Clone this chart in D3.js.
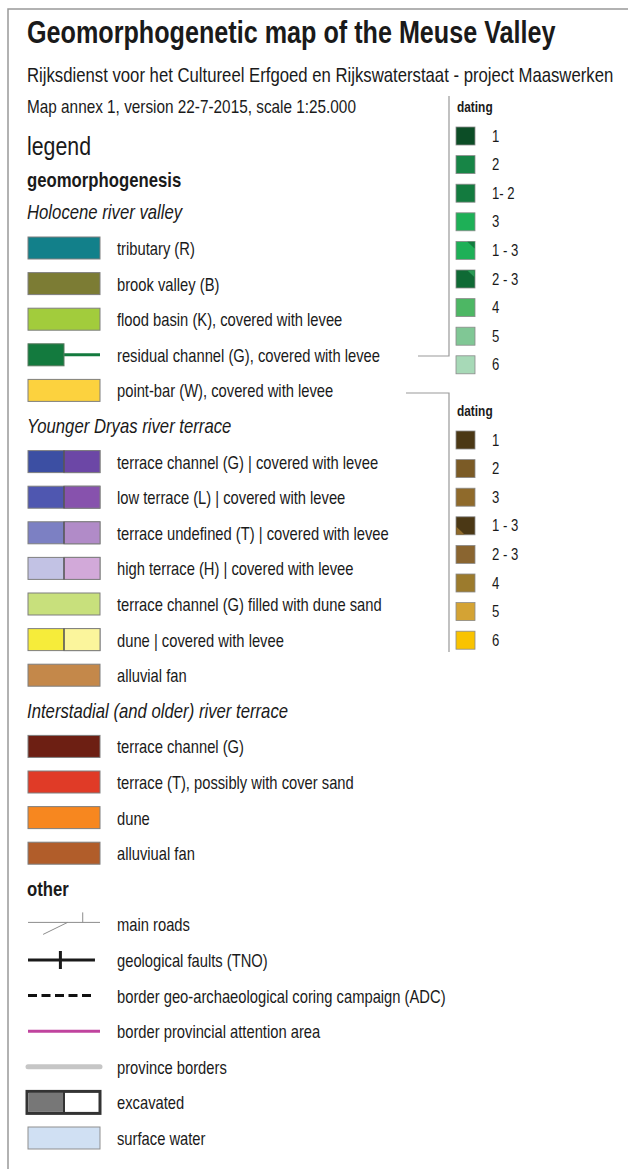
<!DOCTYPE html>
<html>
<head>
<meta charset="utf-8">
<script src="https://cdn.jsdelivr.net/npm/d3@7"></script>
<style>
  body { margin: 0; background: #fff; }
  text { font-family: "Liberation Sans", Arial, sans-serif; fill: #1a1a1a; }
</style>
</head>
<body>
<div class="chart"></div>
<script>
// Legend content
const sections = ["Holocene river valley", "Younger Dryas river terrace",
    "Interstadial (and older) river terrace", "other"];

const holoceneUnits = ["tributary (R)", "brook valley (B)", "flood basin (K), covered with levee",
    "residual channel (G), covered with levee", "point-bar  (W), covered with levee"];
const holoceneFills = ["#12808a", "#7c7c34", "#a2cc3c", "#137a3e", "#fcd23e"];

const dryasUnits = ["terrace channel (G) | covered with levee", "low terrace (L) | covered with levee",
    "terrace undefined (T) | covered with levee", "high terrace (H) | covered with levee",
    "terrace channel (G) filled with dune sand", "dune | covered with levee", "alluvial fan"];
const dryasLeft = ["#3c4fa3", "#4f57b0", "#7c80c3", "#c2c2e4", "#c8e07c", "#f6ec3a", "#c4884a"];
const dryasRight = ["#6c47a6", "#8752ad", "#b18bc8", "#d2a9d9", null, "#fbf59c", null];

const interstadialUnits = ["terrace channel (G)", "terrace (T), possibly with cover sand",
    "dune", "alluviual fan"];
const interstadialFills = ["#6d1f13", "#e03b27", "#f7871f", "#b15d2a"];

const otherItems = ["main roads", "geological faults (TNO)",
    "border geo-archaeological coring campaign (ADC)", "border provincial attention area",
    "province borders", "excavated", "surface water"];
const otherSymbols = ["road", "fault", "dashed", "magenta", "grey", "excavated", "water"];

const greenLabels = ["1", "2", "1- 2", "3", "1 - 3", "2 - 3", "4", "5", "6"];
const greenFills = ["#0c4d26", "#178546", "#137b3f", "#1eb057", "#1eb057", "#0f6a35", "#4db764", "#80c795", "#a7d9b7"];
const greenCorners = [null, null, null, null, "#137b3f", "#2a9a55", null, null, null];

const brownLabels = ["1", "2", "3", "1 - 3", "2 - 3", "4", "5", "6"];
const brownFills = ["#4b3815", "#7b5b26", "#8f6a2b", "#4b3815", "#8a6530", "#9c7b2d", "#d4a334", "#f9c300"];
const brownCorners = [null, null, null, "#8f6a2b", null, null, null, null];

const W = 628, H = 1169;
const sx = 0.82; // narrow font look

const svg = d3.select(".chart").append("svg")
    .attr("width", W)
    .attr("height", H);

// frame
svg.append("path")
    .attr("d", `M8,${H} V9 H${W}`)
    .attr("fill", "none")
    .attr("stroke", "#999")
    .attr("stroke-width", 1.5);

function label(x, y, str, size, weight, style) {
    return svg.append("text")
        .attr("transform", `translate(${x},${y}) scale(${sx},1)`)
        .attr("font-size", size)
        .attr("font-weight", weight || "normal")
        .attr("font-style", style || "normal")
        .text(str);
}

// header
label(27, 43, "Geomorphogenetic map of the Meuse Valley", 30.7, "bold");
label(27, 82, "Rijksdienst voor het Cultureel Erfgoed en Rijkswaterstaat - project Maaswerken", 20.4);
label(27, 113, "Map annex 1, version 22-7-2015, scale 1:25.000", 18.7);
label(27, 155, "legend", 26);
label(27, 187, "geomorphogenesis", 20.4, "bold");

// build the list of rows, headings included
const rows = [];
rows.push({ type: "heading", text: sections[0] });
holoceneUnits.forEach((t, i) => rows.push({
    type: i === 3 ? "channel" : "box", text: t, left: holoceneFills[i], right: null }));
rows.push({ type: "heading", text: sections[1] });
dryasUnits.forEach((t, i) => rows.push({ type: "box", text: t, left: dryasLeft[i], right: dryasRight[i] }));
rows.push({ type: "heading", text: sections[2] });
interstadialUnits.forEach((t, i) => rows.push({ type: "box", text: t, left: interstadialFills[i], right: null }));
rows.push({ type: "heading", text: sections[3], bold: true });
otherItems.forEach((t, i) => rows.push({ type: otherSymbols[i], text: t }));

// row position scale (row centres)
const y = d3.scaleLinear().domain([0, rows.length - 1]).range([212.4, 1138]);
const x = d3.scaleLinear().domain([0, 1]).range([28, 100]);
const boxH = 22;

const g = svg.selectAll(".row")
    .data(rows)
    .enter()
    .append("g")
    .attr("class", "row")
    .attr("transform", (d, i) => `translate(0,${y(i)})`);

g.filter(d => d.type === "heading")
    .append("text")
    .attr("transform", `translate(27,7) scale(${sx},1)`)
    .attr("font-size", 20.4)
    .attr("font-style", d => d.bold ? "normal" : "italic")
    .attr("font-weight", d => d.bold ? "bold" : "normal")
    .text(d => d.text);

g.filter(d => d.type !== "heading")
    .append("text")
    .attr("transform", `translate(117,7) scale(${sx},1)`)
    .attr("font-size", 18)
    .attr("fill", "#2a2a2a")
    .text(d => d.text);

// plain and split boxes
const boxes = g.filter(d => d.type === "box");
boxes.append("rect")
    .attr("x", x(0))
    .attr("y", -boxH / 2)
    .attr("width", x(1) - x(0))
    .attr("height", boxH)
    .attr("fill", d => d.left)
    .attr("stroke", "#7f7f7f")
    .attr("stroke-width", 1);
boxes.filter(d => d.right)
    .append("rect")
    .attr("x", x(0.5))
    .attr("y", -boxH / 2)
    .attr("width", x(1) - x(0.5))
    .attr("height", boxH)
    .attr("fill", d => d.right)
    .attr("stroke", "#7f7f7f")
    .attr("stroke-width", 1);
boxes.filter(d => d.right)
    .append("line")
    .attr("x1", x(0.5)).attr("x2", x(0.5))
    .attr("y1", -boxH / 2).attr("y2", boxH / 2)
    .attr("stroke", "#4a4a4a")
    .attr("stroke-width", 1.2);

// residual channel: block plus line
const ch = g.filter(d => d.type === "channel");
ch.append("line")
    .attr("x1", x(0)).attr("x2", x(1))
    .attr("y1", 0).attr("y2", 0)
    .attr("stroke", d => d.left)
    .attr("stroke-width", 3);
ch.append("rect")
    .attr("x", x(0))
    .attr("y", -boxH / 2)
    .attr("width", x(0.5) - x(0))
    .attr("height", boxH)
    .attr("fill", d => d.left)
    .attr("stroke", "#5a7a60")
    .attr("stroke-width", 1);

// other symbols
const road = g.filter(d => d.type === "road");
road.append("path")
    .attr("d", `M${x(0)},-2 H${x(1)} M${x(0.21)},10 L${x(0.55)},-2 M${x(0.76)},-2 V-12`)
    .attr("fill", "none")
    .attr("stroke", "#8c8c8c")
    .attr("stroke-width", 1);

const fault = g.filter(d => d.type === "fault");
fault.append("path")
    .attr("d", `M${x(0)},0 H${x(0.93)} M${x(0.45)},-9 V9`)
    .attr("fill", "none")
    .attr("stroke", "#1a1a1a")
    .attr("stroke-width", 3);

g.filter(d => d.type === "dashed")
    .append("line")
    .attr("x1", x(0)).attr("x2", x(0.93))
    .attr("y1", 0).attr("y2", 0)
    .attr("stroke", "#111")
    .attr("stroke-width", 3)
    .attr("stroke-dasharray", "9,4.5");

g.filter(d => d.type === "magenta")
    .append("line")
    .attr("x1", x(0)).attr("x2", x(1))
    .attr("y1", 0).attr("y2", 0)
    .attr("stroke", "#c0449e")
    .attr("stroke-width", 3);

g.filter(d => d.type === "grey")
    .append("line")
    .attr("x1", x(0)).attr("x2", x(1))
    .attr("y1", 0).attr("y2", 0)
    .attr("stroke", "#c6c6c6")
    .attr("stroke-width", 5)
    .attr("stroke-linecap", "round");

const exc = g.filter(d => d.type === "excavated");
exc.append("rect")
    .attr("x", x(0) - 1)
    .attr("y", -boxH / 2)
    .attr("width", x(1) - x(0) + 1)
    .attr("height", boxH)
    .attr("fill", "#fff")
    .attr("stroke", "#333")
    .attr("stroke-width", 3);
exc.append("rect")
    .attr("x", x(0) + 0.5)
    .attr("y", -boxH / 2 + 1.5)
    .attr("width", x(0.5) - x(0) - 1)
    .attr("height", boxH - 3)
    .attr("fill", "#777");
exc.append("line")
    .attr("x1", x(0.5)).attr("x2", x(0.5))
    .attr("y1", -boxH / 2).attr("y2", boxH / 2)
    .attr("stroke", "#333")
    .attr("stroke-width", 2);

g.filter(d => d.type === "water")
    .append("rect")
    .attr("x", x(0))
    .attr("y", -boxH / 2)
    .attr("width", x(1) - x(0))
    .attr("height", boxH)
    .attr("fill", "#d0e0f3")
    .attr("stroke", "#8f8f8f")
    .attr("stroke-width", 1);

// dating panels
const sw = 19, sh = 18, sx0 = 456;

function datingPanel(labels, fills, corners, top, cornerType) {
    const items = labels.map((l, i) => ({ label: l, fill: fills[i], corner: corners[i] }));
    const yy = d3.scaleLinear().domain([0, 1]).range([top, top + 28.6]);
    label(457, top - 24, "dating", 14.5, "bold");
    const rg = svg.selectAll(null)
        .data(items)
        .enter()
        .append("g")
        .attr("transform", (d, i) => `translate(0,${yy(i)})`);
    rg.append("rect")
        .attr("x", sx0)
        .attr("y", -sh / 2)
        .attr("width", sw)
        .attr("height", sh)
        .attr("fill", d => d.fill)
        .attr("stroke", "#8a8a8a")
        .attr("stroke-width", 0.8);
    rg.filter(d => d.corner)
        .append("path")
        .attr("d", cornerType === "tr"
            ? `M${sx0 + sw * 0.6},${-sh / 2 + 0.4} H${sx0 + sw - 0.4} V${-sh / 2 + sh * 0.4} Z`
            : `M${sx0 + 0.4},${sh * 0.05} V${sh / 2 - 0.4} H${sx0 + sw * 0.45} Z`)
        .attr("fill", d => d.corner);
    rg.append("text")
        .attr("transform", `translate(492,5.5) scale(${sx},1)`)
        .attr("font-size", 16)
        .attr("fill", "#333")
        .text(d => d.label);
}

datingPanel(greenLabels, greenFills, greenCorners, 136, "tr");
datingPanel(brownLabels, brownFills, brownCorners, 440, "bl");

// connector lines from the legend to the dating panels
svg.append("path")
    .attr("d", "M418,356 H449 V96")
    .attr("fill", "none")
    .attr("stroke", "#999")
    .attr("stroke-width", 1.2);
svg.append("path")
    .attr("d", "M406,393 H449 V652")
    .attr("fill", "none")
    .attr("stroke", "#999")
    .attr("stroke-width", 1.2);
</script>
</body>
</html>
